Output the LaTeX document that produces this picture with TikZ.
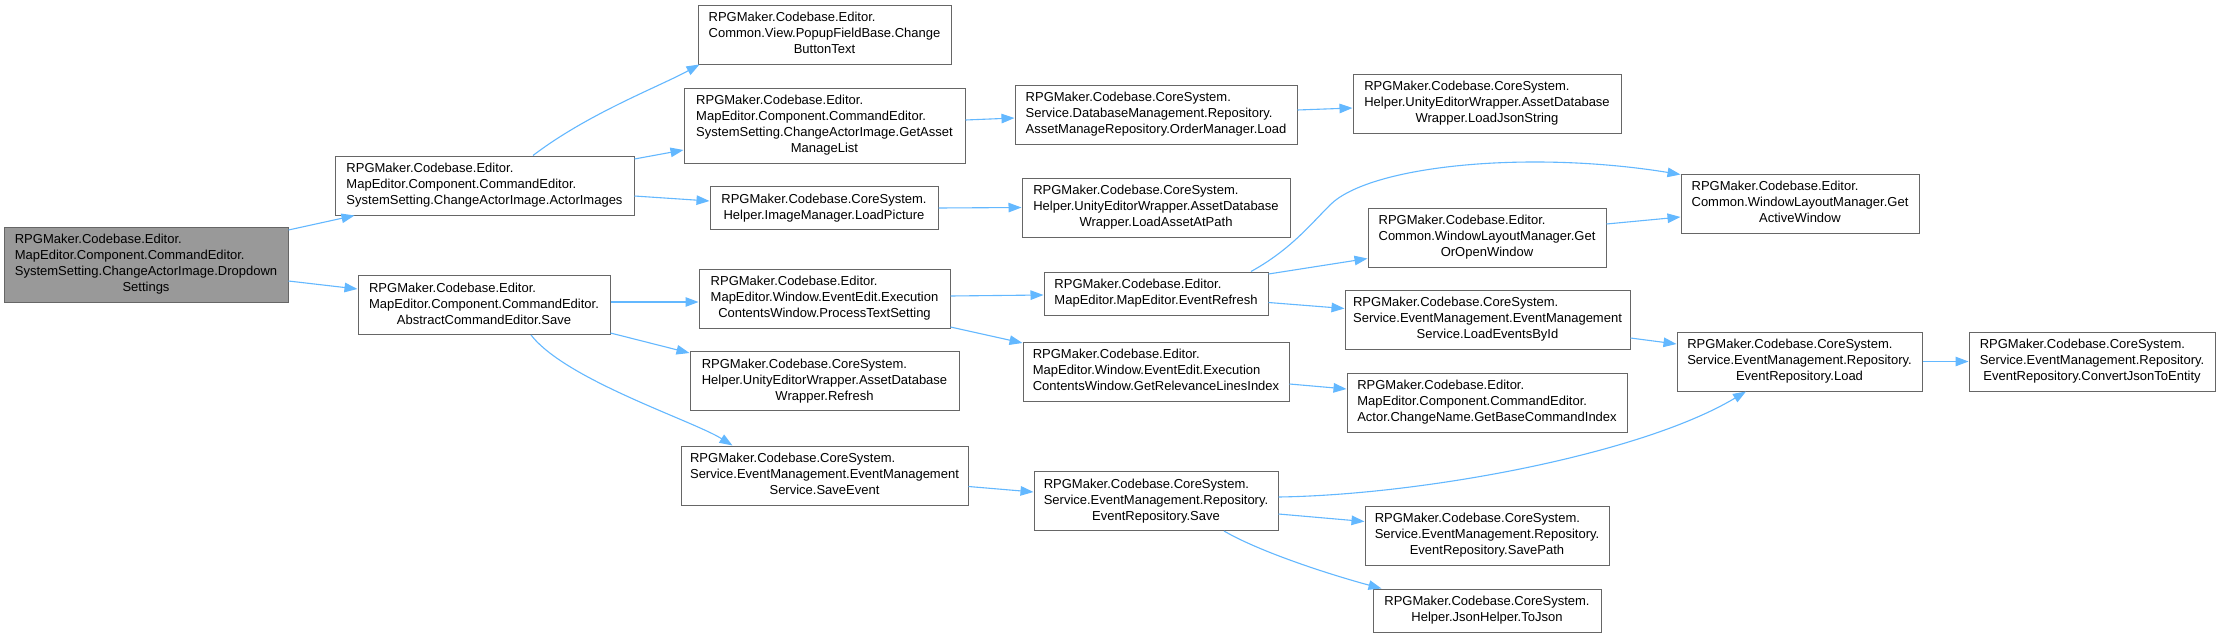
\documentclass[tikz,border=0pt]{standalone}
\usepackage{fontspec}
\setmainfont{Liberation Sans}
\usetikzlibrary{arrows.meta,calc}
\definecolor{edgeblue}{HTML}{63B8FF}
\definecolor{boxborder}{HTML}{666666}
\definecolor{rootfill}{HTML}{999999}
\newcommand{\dxlabel}[2]{\begin{tabular}{@{}l@{}}#1\multicolumn{1}{@{}c@{}}{#2}\end{tabular}}
\begin{document}
\begin{tikzpicture}[x=1pt,y=-1pt,
  box/.style={draw=boxborder,line width=1pt,fill=white,rectangle,inner sep=0pt,font=\fontsize{13}{16}\selectfont},
  callarrow/.style={draw=edgeblue,line width=1.1pt,-{Triangle[length=13pt,width=9.5pt]}}]
\useasboundingbox[fill=white] (0,0) rectangle (2220,637);

\node[box,fill=rootfill,minimum width=284pt,minimum height=75pt] (n1) at (146,264.5) {\dxlabel{RPGMaker.Codebase.Editor.\\MapEditor.Component.CommandEditor.\\SystemSetting.ChangeActorImage.Dropdown\\}{Settings}};
\node[box,minimum width=299pt,minimum height=59pt] (n2) at (484.5,185.5) {\dxlabel{RPGMaker.Codebase.Editor.\\MapEditor.Component.CommandEditor.\\}{SystemSetting.ChangeActorImage.ActorImages}};
\node[box,minimum width=252pt,minimum height=59pt] (n3) at (484,305) {\dxlabel{RPGMaker.Codebase.Editor.\\MapEditor.Component.CommandEditor.\\}{AbstractCommandEditor.Save}};
\node[box,minimum width=253pt,minimum height=59pt] (n4) at (824.5,34.5) {\dxlabel{RPGMaker.Codebase.Editor.\\Common.View.PopupFieldBase.Change\\}{ButtonText}};
\node[box,minimum width=281pt,minimum height=75pt] (n5) at (824.5,125.5) {\dxlabel{RPGMaker.Codebase.Editor.\\MapEditor.Component.CommandEditor.\\SystemSetting.ChangeActorImage.GetAsset\\}{ManageList}};
\node[box,minimum width=228pt,minimum height=43pt] (n6) at (824,208) {\dxlabel{RPGMaker.Codebase.CoreSystem.\\}{Helper.ImageManager.LoadPicture}};
\node[box,minimum width=251pt,minimum height=59pt] (n7) at (824.5,298.5) {\dxlabel{RPGMaker.Codebase.Editor.\\MapEditor.Window.EventEdit.Execution\\}{ContentsWindow.ProcessTextSetting}};
\node[box,minimum width=269pt,minimum height=59pt] (n8) at (824.5,381) {\dxlabel{RPGMaker.Codebase.CoreSystem.\\Helper.UnityEditorWrapper.AssetDatabase\\}{Wrapper.Refresh}};
\node[box,minimum width=287pt,minimum height=59pt] (n9) at (824.5,475.5) {\dxlabel{RPGMaker.Codebase.CoreSystem.\\Service.EventManagement.EventManagement\\}{Service.SaveEvent}};
\node[box,minimum width=282pt,minimum height=59pt] (n10) at (1156,114.5) {\dxlabel{RPGMaker.Codebase.CoreSystem.\\Service.DatabaseManagement.Repository.\\}{AssetManageRepository.OrderManager.Load}};
\node[box,minimum width=268pt,minimum height=59pt] (n11) at (1156,207.5) {\dxlabel{RPGMaker.Codebase.CoreSystem.\\Helper.UnityEditorWrapper.AssetDatabase\\}{Wrapper.LoadAssetAtPath}};
\node[box,minimum width=224pt,minimum height=43pt] (n12) at (1156,293.5) {\dxlabel{RPGMaker.Codebase.Editor.\\}{MapEditor.MapEditor.EventRefresh}};
\node[box,minimum width=266pt,minimum height=59pt] (n13) at (1156,371.5) {\dxlabel{RPGMaker.Codebase.Editor.\\MapEditor.Window.EventEdit.Execution\\}{ContentsWindow.GetRelevanceLinesIndex}};
\node[box,minimum width=244pt,minimum height=59pt] (n14) at (1156,501) {\dxlabel{RPGMaker.Codebase.CoreSystem.\\Service.EventManagement.Repository.\\}{EventRepository.Save}};
\node[box,minimum width=268pt,minimum height=59pt] (n15) at (1487,103.5) {\dxlabel{RPGMaker.Codebase.CoreSystem.\\Helper.UnityEditorWrapper.AssetDatabase\\}{Wrapper.LoadJsonString}};
\node[box,minimum width=238pt,minimum height=59pt] (n16) at (1487,237.5) {\dxlabel{RPGMaker.Codebase.Editor.\\Common.WindowLayoutManager.Get\\}{OrOpenWindow}};
\node[box,minimum width=285pt,minimum height=59pt] (n17) at (1487.5,319.5) {\dxlabel{RPGMaker.Codebase.CoreSystem.\\Service.EventManagement.EventManagement\\}{Service.LoadEventsById}};
\node[box,minimum width=280pt,minimum height=59pt] (n18) at (1487,402.5) {\dxlabel{RPGMaker.Codebase.Editor.\\MapEditor.Component.CommandEditor.\\}{Actor.ChangeName.GetBaseCommandIndex}};
\node[box,minimum width=244pt,minimum height=59pt] (n19) at (1487,535.5) {\dxlabel{RPGMaker.Codebase.CoreSystem.\\Service.EventManagement.Repository.\\}{EventRepository.SavePath}};
\node[box,minimum width=228pt,minimum height=43pt] (n20) at (1487,610.5) {\dxlabel{RPGMaker.Codebase.CoreSystem.\\}{Helper.JsonHelper.ToJson}};
\node[box,minimum width=238pt,minimum height=59pt] (n21) at (1800,203.5) {\dxlabel{RPGMaker.Codebase.Editor.\\Common.WindowLayoutManager.Get\\}{ActiveWindow}};
\node[box,minimum width=245pt,minimum height=59pt] (n22) at (1799.5,361.5) {\dxlabel{RPGMaker.Codebase.CoreSystem.\\Service.EventManagement.Repository.\\}{EventRepository.Load}};
\node[box,minimum width=246pt,minimum height=59pt] (n23) at (2092,361.5) {\dxlabel{RPGMaker.Codebase.CoreSystem.\\Service.EventManagement.Repository.\\}{EventRepository.ConvertJsonToEntity}};

\draw[callarrow] ($(n1.east)+(0,-34.5)$) -- ($(n2.south west)+(20,0)$);
\draw[callarrow] ($(n1.east)+(0,16.5)$) -- ($(n3.west)+(0,-16)$);
\draw[callarrow] ($(n2.north)+(48.5,0)$) .. controls +(55,-42) and +(-40,22) .. ($(n4.south west)+(2,0)$);
\draw[callarrow] ($(n2.east)+(0,-26.5)$) -- ($(n5.west)+(0,24.5)$);
\draw[callarrow] ($(n2.east)+(0,10.5)$) -- ($(n6.west)+(0,-7)$);
\draw[callarrow] ($(n5.east)+(0,-5.5)$) -- ($(n10.west)+(0,3.5)$);
\draw[callarrow] ($(n10.east)+(0,-4.5)$) -- ($(n15.west)+(0,4.5)$);
\draw[callarrow] (n6.east) -- (n11.west);
\draw[callarrow] ($(n3.east)+(0,-3)$) -- ($(n7.west)+(0,3.5)$);
\draw[callarrow] ($(n3.east)+(0,28)$) -- ($(n8.west)+(0,-28)$);
\draw[callarrow] ($(n3.south)+(47,0)$) .. controls +(35,45) and +(-40,-25) .. ($(n9.north west)+(52,0)$);
\draw[callarrow] ($(n7.east)+(0,-2.5)$) -- ($(n12.west)+(0,1.5)$);
\draw[callarrow] ($(n7.east)+(0,28.5)$) -- ($(n13.west)+(0,-28.5)$);
\draw[callarrow] ($(n12.north)+(95,0)$) .. controls (1290,250) and (1310,225) .. (1330,205) .. controls (1370,165) and (1530,150) .. ($(n21.west)+(0,-29)$);
\draw[callarrow] ($(n12.east)+(0,-19.5)$) -- ($(n16.west)+(0,21)$);
\draw[callarrow] ($(n12.east)+(0,9)$) -- ($(n17.west)+(0,-11)$);
\draw[callarrow] ($(n16.east)+(0,-13.5)$) -- ($(n21.west)+(0,13.5)$);
\draw[callarrow] ($(n17.east)+(0,18.5)$) -- ($(n22.west)+(0,-17.5)$);
\draw[callarrow] (n22.east) -- (n23.west);
\draw[callarrow] ($(n13.east)+(0,12.5)$) -- ($(n18.west)+(0,-13.5)$);
\draw[callarrow] ($(n9.east)+(0,11)$) -- ($(n14.west)+(0,-9)$);
\draw[callarrow] ($(n14.east)+(0,-4)$) .. controls (1420,495) and (1640,455) .. ($(n22.south)+(-53.5,0)$);
\draw[callarrow] ($(n14.east)+(0,13)$) -- ($(n19.west)+(0,-14)$);
\draw[callarrow] ($(n14.south)+(68,0)$) .. controls +(36,21) and +(-52,-14) .. ($(n20.north west)+(9,0)$);
\end{tikzpicture}
\end{document}
